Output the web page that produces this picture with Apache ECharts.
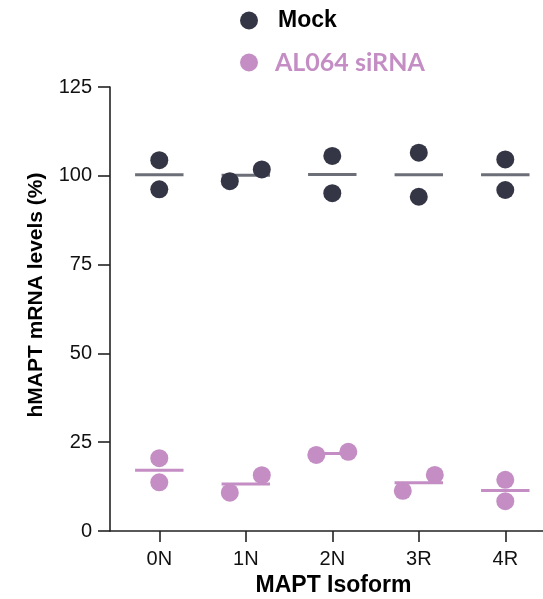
<!DOCTYPE html>
<html><head><meta charset="utf-8">
<script src="https://cdn.jsdelivr.net/npm/echarts@6/dist/echarts.min.js"></script>
<style>html,body{margin:0;padding:0;background:#fff}#c{width:543px;height:599px}</style>
</head><body><div id="c"></div>
<script>
const categories = ['0N', '1N', '2N', '3R', '4R'];
const yTicks = [0, 25, 50, 75, 100, 125];
// two replicates per isoform
const mockRep1 = [104.4, 98.5, 105.6, 106.5, 104.6];
const mockRep2 = [96.2, 101.8, 95.1, 94.1, 96.0];
const sirnaRep1 = [20.5, 10.8, 21.4, 11.3, 14.4];
const sirnaRep2 = [13.7, 15.7, 22.3, 15.8, 8.4];

const MOCK_C = '#343645', MOCK_LINE = '#6c6e78', SI_C = '#c48ec4';

function points(a, b) {
  const out = [];
  a.forEach((v, i) => {
    const w = b[i];
    if (Math.abs(v - w) < 5.5) {
      const lo = Math.min(v, w), hi = Math.max(v, w);
      out.push([i - 0.185, lo], [i + 0.185, hi]);
    } else {
      out.push([i, v], [i, w]);
    }
  });
  return out;
}
function means(a, b) { return a.map((v, i) => [i, (v + b[i]) / 2]); }

function meanSeries(data, color) {
  return {
    type: 'custom', data: data, z: 2, silent: true,
    renderItem: function (params, api) {
      const i = api.value(0), m = api.value(1);
      const p1 = api.coord([i - 0.28, m]), p2 = api.coord([i + 0.28, m]);
      return { type: 'line', shape: { x1: p1[0], y1: p1[1], x2: p2[0], y2: p2[1] },
        style: { stroke: color, lineWidth: 3 } };
    }
  };
}

const chart = echarts.init(document.getElementById('c'), null, { renderer: 'canvas' });
chart.setOption({
  backgroundColor: '#fff',
  animation: false,
  legend: [
    { data: [{ name: 'Mock', textStyle: { color: '#000', fontFamily: 'Liberation Sans', fontWeight: 'bold', fontSize: 23, padding: [0, 0, 0, 15] } }],
      left: 235, top: 4, itemWidth: 18, itemHeight: 18, icon: 'circle' },
    { data: [{ name: 'AL064 siRNA', textStyle: { color: SI_C, fontFamily: 'Lato', fontWeight: 'bold', fontSize: 25, padding: [0, 0, 0, 12] } }],
      left: 235, top: 45, itemWidth: 18, itemHeight: 18, icon: 'circle' }
  ],
  grid: { left: 110, right: 0, top: 87, bottom: 68, containLabel: false, outerBoundsMode: 'none' },
  xAxis: {
    type: 'value', min: -0.57, max: 4.436,
    name: 'MAPT Isoform', nameLocation: 'middle', nameGap: 40,
    nameTextStyle: { fontFamily: 'Liberation Sans', fontWeight: 'bold', fontSize: 23, color: '#000', padding: [0, 0, 0, 14] },
    axisLine: { show: true, onZero: false, lineStyle: { color: '#222', width: 1.6 } },
    axisTick: { show: true, length: 11, lineStyle: { color: '#222', width: 1.6 }, customValues: [0, 1, 2, 3, 4] },
    axisLabel: { customValues: [0, 1, 2, 3, 4], formatter: v => categories[Math.round(v)] ?? '',
      fontFamily: 'Liberation Sans', fontSize: 20, color: '#111', margin: 18 },
    splitLine: { show: false }
  },
  yAxis: {
    type: 'value', min: yTicks[0], max: yTicks[yTicks.length - 1], interval: 25,
    name: 'hMAPT mRNA levels (%)', nameLocation: 'middle', nameGap: 63,
    nameTextStyle: { fontFamily: 'Liberation Sans', fontWeight: 'bold', fontSize: 21, color: '#000', padding: [0, 0, 0, 28] },
    axisLine: { show: true, onZero: false, lineStyle: { color: '#222', width: 1.6 } },
    axisTick: { show: true, length: 12, lineStyle: { color: '#222', width: 1.6 } },
    axisLabel: { fontFamily: 'Liberation Sans', fontSize: 20, color: '#111', margin: 18 },
    splitLine: { show: false }
  },
  series: [
    meanSeries(means(mockRep1, mockRep2), MOCK_LINE),
    meanSeries(means(sirnaRep1, sirnaRep2), SI_C),
    { name: 'Mock', type: 'scatter', data: points(mockRep1, mockRep2), symbol: 'circle', symbolSize: 18,
      itemStyle: { color: MOCK_C, opacity: 1 }, z: 3 },
    { name: 'AL064 siRNA', type: 'scatter', data: points(sirnaRep1, sirnaRep2), symbol: 'circle', symbolSize: 18,
      itemStyle: { color: SI_C, opacity: 1 }, z: 3 }
  ]
});
</script></body></html>
